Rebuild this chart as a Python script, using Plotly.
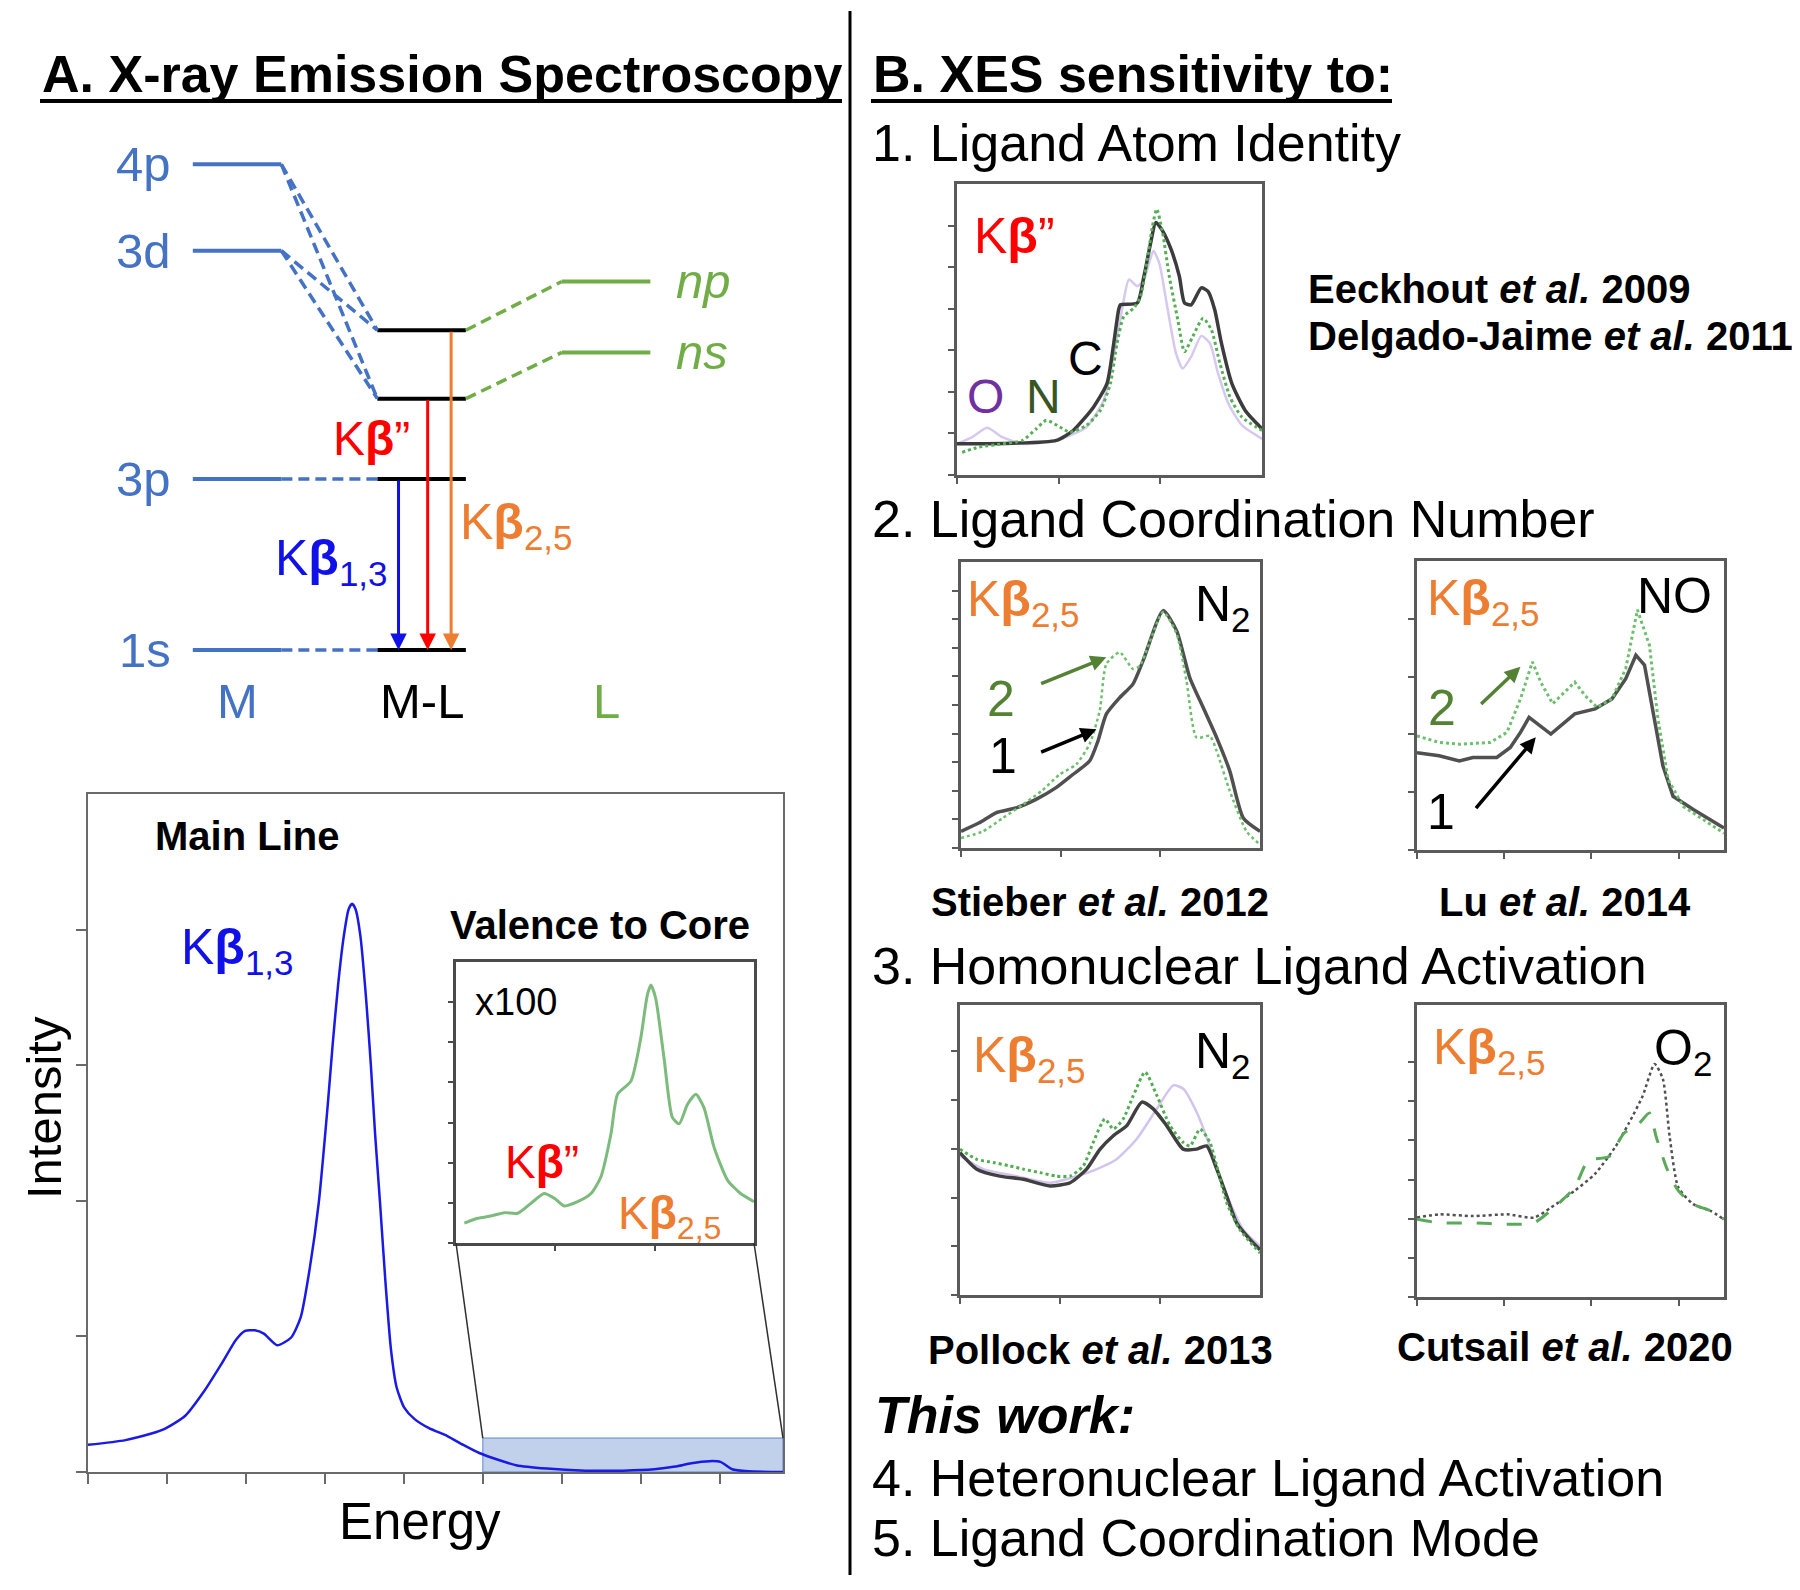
import plotly.graph_objects as go

# page offset: the browser puts an 8px body margin around the plot
OFF = 8
W, H = 1800 - OFF, 1590 - OFF
FONT = "Liberation Sans, Arial, Helvetica, sans-serif"

# ---------------------------------------------------------------- data
# Energy-level diagram (arbitrary energy units; columns: M=0, M-L=1, L=2)
M_LEVELS = ["4p", "3d", "3p", "1s"]
M_ENERGY = [28.4, 23.35, 10.0, 0.0]
ML_ENERGY = [18.7, 14.7, 10.0, 0.0]          # upper MO, lower MO, 3p, 1s
L_LEVELS = ["np", "ns"]
L_ENERGY = [21.55, 17.4]
M_TO_ML = [(0, 0), (0, 1), (1, 0), (1, 1), (2, 2), (3, 3)]
L_TO_ML = [(0, 0), (1, 1)]
COLUMN_LABELS = ["M", "M-L", "L"]
TRANSITION_NAMES = ["K<b>β</b><sub>1,3</sub>", "K<b>β</b>”", "K<b>β</b><sub>2,5</sub>"]
TRANSITION_FROM = [10.0, 14.7, 18.7]

# Main Kβ spectrum (normalised energy / intensity)
MAIN_X = [0, .054, .107, .14, .167, .193, .213, .226, .24, .253, .272, .292, .306, .319, .332,
          .345, .352, .36, .368, .375, .38, .385, .392, .40, .407, .413, .42, .428, .436, .444,
          .455, .47, .49, .517, .54, .563, .59, .616, .66, .716, .77, .815, .845, .868, .894,
          .91, .927, .95, 1.0]
MAIN_Y = [.040, .047, .062, .083, .119, .161, .195, .208, .209, .204, .187, .198, .228, .30, .397,
          .542, .63, .72, .79, .83, .838, .83, .79, .70, .60, .50, .40, .28, .18, .125,
          .095, .078, .065, .053, .04, .028, .018, .01, .005, .002, .002, .004, .008, .013, .016,
          .015, .004, .001, 0.0]
VTC_WINDOW = [0.568, 1.0]
VTC_HEIGHT = 0.05

# Valence-to-core inset (x100)
VTC_X = [.028, .073, .117, .162, .207, .251, .296, .33, .363, .408, .453, .486, .52, .542, .587,
         .62, .642, .654, .67, .698, .726, .749, .777, .805, .832, .866, .911, .955, 1.0]
VTC_Y = [.071, .088, .096, .108, .106, .141, .176, .159, .132, .147, .176, .235, .388, .529, .576,
         .729, .882, .918, .871, .659, .447, .424, .494, .529, .482, .341, .224, .176, .147]

# Panel B1: ligand atom identity (C, N, O)
P1_C_X = [0, .182, .326, .381, .448, .492, .514, .530, .536, .591, .613, .635, .652, .674, .702,
          .729, .746, .768, .801, .823, .845, .867, .901, .945, 1.0]
P1_C_Y = [.107, .109, .119, .153, .234, .315, .453, .568, .585, .591, .683, .798, .868, .839, .775,
          .683, .591, .585, .643, .631, .568, .453, .315, .222, .159]
P1_N_X = [.017, .072, .149, .215, .26, .293, .337, .37, .425, .47, .503, .525, .547, .58, .602,
          .624, .641, .655, .674, .696, .724, .746, .773, .807, .834, .862, .895, .934, 1.0]
P1_N_Y = [.078, .096, .107, .119, .159, .188, .165, .147, .171, .222, .315, .453, .545, .574, .614,
          .741, .856, .914, .833, .683, .533, .424, .476, .539, .499, .384, .268, .199, .153]
P1_O_X = [0, .05, .099, .149, .215, .326, .425, .481, .514, .541, .564, .591, .613, .63, .644,
          .663, .691, .718, .740, .768, .801, .829, .856, .890, .934, 1.0]
P1_O_Y = [.107, .130, .162, .130, .107, .119, .165, .257, .407, .568, .672, .649, .672, .729, .770,
          .729, .568, .418, .366, .407, .478, .453, .349, .245, .171, .124]

# Panel B2a: Stieber 2012 (N2, 1 vs 2)
P2A_1_X = [0, .061, .117, .184, .251, .318, .374, .43, .458, .486, .531, .575, .609, .676, .721,
           .765, .81, .855, .899, .944, 1.0]
P2A_1_Y = [.058, .088, .123, .14, .17, .211, .257, .304, .374, .468, .526, .573, .655, .83, .76,
           .596, .491, .386, .269, .105, .058]
P2A_2_X = [0, .073, .14, .207, .27, .33, .385, .43, .464, .486, .531, .575, .598, .676, .721,
           .754, .788, .832, .855, .899, .955, 1.0]
P2A_2_Y = [.035, .058, .105, .152, .20, .257, .292, .363, .48, .643, .684, .626, .637, .825, .749,
           .585, .386, .392, .339, .199, .058, .012]

# Panel B2b: Lu 2014 (NO, 1 vs 2)
P2B_1_X = [0, .072, .138, .182, .26, .304, .337, .365, .436, .481, .514, .58, .635, .68, .713,
           .741, .768, .801, .834, .9, 1.0]
P2B_1_Y = [.337, .326, .308, .32, .32, .355, .407, .459, .401, .442, .471, .488, .523, .593, .674,
           .64, .477, .291, .186, .14, .076]
P2B_2_X = [0, .072, .138, .238, .293, .337, .376, .403, .442, .481, .514, .547, .586, .635, .68,
           .718, .757, .785, .818, .867, .934, 1.0]
P2B_2_Y = [.395, .372, .366, .372, .407, .523, .651, .581, .506, .547, .581, .535, .494, .523, .628,
           .831, .709, .453, .244, .151, .105, .058]

# Panel B3a: Pollock 2013 (N2)
P3A_K_X = [0, .056, .133, .211, .3, .367, .422, .467, .511, .556, .606, .644, .689, .744, .789,
           .822, .856, .889, .922, .967, 1.0]
P3A_K_Y = [.491, .434, .41, .399, .376, .387, .434, .503, .549, .584, .665, .642, .584, .503, .503,
           .514, .434, .341, .249, .191, .156]
P3A_G_X = [0, .056, .111, .167, .211, .267, .322, .367, .411, .444, .483, .511, .544, .578, .617,
           .656, .7, .744, .767, .8, .833, .856, .889, .933, 1.0]
P3A_G_Y = [.503, .468, .457, .445, .434, .422, .41, .41, .445, .526, .607, .572, .607, .688, .769,
           .688, .584, .526, .514, .572, .526, .445, .318, .225, .145]
P3A_P_X = [0, .078, .189, .3, .389, .456, .522, .589, .656, .711, .744, .789, .828, .856, .9,
           .944, 1.0]
P3A_P_Y = [.48, .434, .41, .387, .41, .434, .468, .538, .642, .723, .711, .63, .526, .434, .318,
           .225, .168]

# Panel B3b: Cutsail 2020 (O2)
P3B_K_X = [0, .072, .182, .293, .381, .436, .514, .58, .646, .69, .735, .774, .801, .823, .851,
           .9, .956, 1.0]
P3B_K_Y = [.272, .283, .277, .283, .272, .306, .364, .422, .514, .595, .688, .798, .746, .549, .376,
           .318, .295, .266]
P3B_G_X = [0, .072, .182, .293, .381, .459, .514, .558, .624, .674, .724, .757, .779, .812, .851,
           .9, .956, 1.0]
P3B_G_Y = [.266, .254, .254, .249, .254, .318, .376, .468, .48, .561, .595, .63, .549, .445, .364,
           .318, .295, .266]

# ---------------------------------------------------------------- helpers
def P(x):
    return (x - OFF) / W


def Q(y):
    return 1 - (y - OFF) / H


BLUE_LVL = "#4472C4"
GREEN_LVL = "#70AD47"
ORANGE = "#ED7D31"
RED = "#FF0000"
DBLUE = "#1010E8"
FRAME = "#5a5a5a"

fig = go.Figure()
ann = []
shapes = []


def text(t, x, y, size, color="black", xanchor="center", yanchor="middle", xref="paper",
         yref="paper", angle=0):
    ann.append(dict(text=t, x=x, y=y, xref=xref, yref=yref, showarrow=False, xanchor=xanchor,
                    yanchor=yanchor, textangle=angle,
                    font=dict(family=FONT, size=size, color=color)))


def line(xs, ys, color, width, dash="solid", ax="", shape="linear", opacity=1.0):
    fig.add_trace(go.Scatter(x=xs, y=ys, mode="lines", xaxis="x" + ax, yaxis="y" + ax,
                             line=dict(color=color, width=width, dash=dash, shape=shape,
                                       smoothing=0.6),
                             opacity=opacity, showlegend=False, hoverinfo="skip"))


def arrow(x0, y0, x1, y1, color, width, ax="", head=2, size=1.0):
    ann.append(dict(x=x1, y=y1, ax=x0, ay=y0, xref="x" + ax, yref="y" + ax, axref="x" + ax,
                    ayref="y" + ax, text="", showarrow=True, arrowhead=head, arrowsize=size,
                    arrowwidth=width, arrowcolor=color, standoff=0, startstandoff=0))


# ---------------------------------------------------------------- energy diagram
HW = 0.24
for name, e in zip(M_LEVELS, M_ENERGY):
    line([-HW, HW], [e, e], BLUE_LVL, 4)
    text(name, -0.35, e, 49, BLUE_LVL, xanchor="right", xref="x", yref="y")
for e in ML_ENERGY:
    line([1 - HW, 1 + HW], [e, e], "black", 4)
for name, e in zip(L_LEVELS, L_ENERGY):
    line([2 - HW, 2 + HW], [e, e], GREEN_LVL, 4)
    text("<i>%s</i>" % name, 2.37, e, 49, GREEN_LVL, xanchor="left", xref="x", yref="y")
for mi, mli in M_TO_ML:
    line([HW, 1 - HW], [M_ENERGY[mi], ML_ENERGY[mli]], BLUE_LVL, 3.5, dash="11px,6px")
for li, mli in L_TO_ML:
    line([1 + HW, 2 - HW], [ML_ENERGY[mli], L_ENERGY[li]], GREEN_LVL, 3.5, dash="11px,6px")
for i, lab in enumerate(COLUMN_LABELS):
    text(lab, i, -2.95, 49, [BLUE_LVL, "black", GREEN_LVL][i], xref="x", yref="y")

arrow_x = [0.875, 1.033, 1.16]
arrow_c = [DBLUE, RED, ORANGE]
for xv, e0, c in zip(arrow_x, TRANSITION_FROM, arrow_c):
    arrow(xv, e0, xv, ML_ENERGY[-1], c, 3, head=2, size=1.1)
text(TRANSITION_NAMES[1], 0.95, 12.35, 48, RED, xanchor="right", xref="x", yref="y")
text(TRANSITION_NAMES[0], 0.83, 5.2, 50, DBLUE, xanchor="right", xref="x", yref="y")
text(TRANSITION_NAMES[2], 1.20, 7.3, 50, ORANGE, xanchor="left", xref="x", yref="y")

# ---------------------------------------------------------------- main spectrum
line(MAIN_X, MAIN_Y, "#1a1ae6", 2.5, ax="2", shape="spline")
shapes.append(dict(type="rect", xref="x2", yref="y2", x0=VTC_WINDOW[0], x1=VTC_WINDOW[1],
                   y0=0, y1=VTC_HEIGHT, fillcolor="rgba(68,114,196,0.33)",
                   line=dict(color="rgba(68,114,196,0.55)", width=1.5), layer="below"))

line(VTC_X, VTC_Y, "#7dbb7d", 3, ax="3", shape="spline")

# ---------------------------------------------------------------- panel B spectra
line(P1_O_X, P1_O_Y, "#d6c8ee", 2.5, ax="4", shape="spline")
line(P1_C_X, P1_C_Y, "#3c3c3c", 3.5, ax="4", shape="spline")
line(P1_N_X, P1_N_Y, "#55b055", 3, dash="dot", ax="4", shape="spline")

line(P2A_1_X, P2A_1_Y, "#505050", 3.5, ax="5", shape="spline")
line(P2A_2_X, P2A_2_Y, "#6cc06c", 2.5, dash="dot", ax="5", shape="spline")

line(P2B_1_X, P2B_1_Y, "#505050", 3.5, ax="6")
line(P2B_2_X, P2B_2_Y, "#6cc06c", 3, dash="dot", ax="6")

line(P3A_P_X, P3A_P_Y, "#d2c4ee", 2.5, ax="7", shape="spline")
line(P3A_K_X, P3A_K_Y, "#404040", 3.5, ax="7", shape="spline")
line(P3A_G_X, P3A_G_Y, "#4fae4f", 3, dash="dot", ax="7", shape="spline")

line(P3B_K_X, P3B_K_Y, "#505050", 2.5, dash="dot", ax="8", shape="spline")
line(P3B_G_X, P3B_G_Y, "#5aaa5a", 3, dash="longdash", ax="8", shape="spline")

# ---------------------------------------------------------------- axes / layout
def frame(dx, dy, xt, yt, color=FRAME, lw=3, xr=(0, 1), yr=(0, 1), tl=6):
    common = dict(showline=True, mirror=True, linecolor=color, linewidth=lw, ticks="outside",
                  ticklen=tl, tickwidth=1.5, tickcolor=color, showticklabels=False,
                  showgrid=False, zeroline=False, fixedrange=True)
    return (dict(domain=dx, range=list(xr), tickvals=xt, **common),
            dict(domain=dy, range=list(yr), tickvals=yt, **common))


DOMS = {
    "2": ([P(88), P(783)], [Q(1472), Q(794)]),
    "3": ([P(456), P(754)], [Q(1243), Q(962)]),
    "4": ([P(957), P(1262)], [Q(475), Q(184)]),
    "5": ([P(961), P(1260)], [Q(848), Q(562)]),
    "6": ([P(1417), P(1724)], [Q(850), Q(561)]),
    "7": ([P(960), P(1260)], [Q(1295), Q(1005)]),
    "8": ([P(1417), P(1724)], [Q(1297), Q(1005)]),
}
TICKS = {
    "2": ([k / 8.8 for k in range(9)], [0, .2, .4, .6, .8]),
    "3": ([1 / 3, 2 / 3], [k / 7 for k in range(7)]),
    "4": ([0, 1 / 3, 2 / 3], [k / 7 for k in range(7)]),
    "5": ([0, 1 / 3, 2 / 3], [k / 10 for k in range(10)]),
    "6": ([0, .284, .568, .852], [k / 5 for k in range(5)]),
    "7": ([0, 1 / 3, 2 / 3], [k * .168 for k in range(6)]),
    "8": ([0, .284, .568, .852], [k * .134 for k in range(7)]),
}

layout = dict(width=W, height=H, margin=dict(l=0, r=0, t=0, b=0), paper_bgcolor="white",
              plot_bgcolor="white", showlegend=False, font=dict(family=FONT),
              xaxis=dict(domain=[P(OFF), P(850)], range=[-1.285 + (OFF / 184.5), 3.322],
                         visible=False, fixedrange=True),
              yaxis=dict(domain=[Q(720), Q(100)], range=[-4.09, 32.16], visible=False,
                         fixedrange=True))
for k, (dx, dy) in DOMS.items():
    xt, yt = TICKS[k]
    if k == "2":
        xa, ya = frame(dx, dy, xt, yt, color="#6a6a6a", lw=1.5, tl=10)
    elif k == "3":
        xa, ya = frame(dx, dy, xt, yt, color="#4a4a4a", lw=2.5, tl=5)
    else:
        xa, ya = frame(dx, dy, xt, yt)
    xa["anchor"] = "y" + k
    ya["anchor"] = "x" + k
    layout["xaxis" + k] = xa
    layout["yaxis" + k] = ya

# connectors from inset to highlighted VTC window
mdx, mdy = DOMS["2"]
idx, idy = DOMS["3"]
wx0 = mdx[0] + VTC_WINDOW[0] * (mdx[1] - mdx[0])
wx1 = mdx[0] + VTC_WINDOW[1] * (mdx[1] - mdx[0])
wy = mdy[0] + VTC_HEIGHT * (mdy[1] - mdy[0])
for xa_, xb_ in [(idx[0], wx0), (idx[1], wx1)]:
    shapes.append(dict(type="line", xref="paper", yref="paper", x0=xa_, y0=idy[0], x1=xb_,
                       y1=wy, line=dict(color="#303030", width=1.5)))

# divider and title underlines
shapes.append(dict(type="line", xref="paper", yref="paper", x0=P(850), x1=P(850), y0=Q(1575),
                   y1=Q(11), line=dict(color="black", width=3)))
shapes.append(dict(type="line", xref="paper", yref="paper", x0=P(40), x1=P(842), y0=Q(101),
                   y1=Q(101), line=dict(color="black", width=4)))
shapes.append(dict(type="line", xref="paper", yref="paper", x0=P(871), x1=P(1392), y0=Q(101),
                   y1=Q(101), line=dict(color="black", width=4)))

# ---------------------------------------------------------------- texts, panel A
text("<b>A. X-ray Emission Spectroscopy</b>", P(40), Q(74), 52, xanchor="left")
text("<b>Main Line</b>", P(247), Q(836), 40)
text("<b>Valence to Core</b>", P(600), Q(925), 40)
text("K<b>β</b><sub>1,3</sub>", P(238), Q(950), 50, DBLUE)
text("x100", P(516), Q(1002), 38)
text("K<b>β</b>”", P(542), Q(1162), 46, RED)
text("K<b>β</b><sub>2,5</sub>", P(670), Q(1216), 46, ORANGE)
text("Intensity", P(44), Q(1108), 49, angle=-90)
text("Energy", P(420), Q(1521), 51)

# ---------------------------------------------------------------- texts, panel B
text("<b>B. XES sensitivity to:</b>", P(871), Q(74), 52, xanchor="left")
text("1. Ligand Atom Identity", P(870), Q(143), 52, xanchor="left")
text("2. Ligand Coordination Number", P(870), Q(519), 52, xanchor="left")
text("3. Homonuclear Ligand Activation", P(870), Q(966), 52, xanchor="left")
text("<b><i>This work:</i></b>", P(873), Q(1415), 52, xanchor="left")
text("4. Heteronuclear Ligand Activation", P(870), Q(1478), 52, xanchor="left")
text("5. Ligand Coordination Mode", P(870), Q(1538), 52, xanchor="left")

text("<b>Eeckhout <i>et al.</i> 2009</b>", P(1306), Q(289), 40, xanchor="left")
text("<b>Delgado-Jaime <i>et al.</i> 2011</b>", P(1306), Q(336), 40, xanchor="left")
text("<b>Stieber <i>et al.</i> 2012</b>", P(1100), Q(902), 40)
text("<b>Lu <i>et al.</i> 2014</b>", P(1565), Q(902), 40)
text("<b>Pollock <i>et al.</i> 2013</b>", P(1100), Q(1350), 40)
text("<b>Cutsail <i>et al.</i> 2020</b>", P(1565), Q(1347), 40)

# labels inside the small spectra
text("K<b>β</b>”", 0.19, 0.82, 50, RED, xref="x4", yref="y4")
text("O", 0.094, 0.27, 48, "#7030A0", xref="x4", yref="y4")
text("N", 0.282, 0.27, 48, "#375623", xref="x4", yref="y4")
text("C", 0.42, 0.40, 48, "black", xref="x4", yref="y4")

text("K<b>β</b><sub>2,5</sub>", 0.21, 0.86, 50, ORANGE, xref="x5", yref="y5")
text("N<sub>2</sub>", 0.875, 0.84, 50, "black", xref="x5", yref="y5")
text("2", 0.134, 0.52, 50, "#548235", xref="x5", yref="y5")
text("1", 0.14, 0.32, 50, "black", xref="x5", yref="y5")
arrow(0.263, 0.573, 0.486, 0.667, "#548235", 3.5, ax="5", head=2, size=0.9)
arrow(0.263, 0.333, 0.453, 0.415, "black", 3.5, ax="5", head=2, size=0.9)

text("K<b>β</b><sub>2,5</sub>", 0.215, 0.86, 50, ORANGE, xref="x6", yref="y6")
text("NO", 0.84, 0.88, 50, "black", xref="x6", yref="y6")
text("2", 0.083, 0.49, 50, "#548235", xref="x6", yref="y6")
text("1", 0.077, 0.13, 50, "black", xref="x6", yref="y6")
arrow(0.204, 0.50, 0.337, 0.634, "#548235", 3.5, ax="6", head=2, size=0.9)
arrow(0.188, 0.14, 0.387, 0.39, "black", 3.5, ax="6", head=2, size=0.9)

text("K<b>β</b><sub>2,5</sub>", 0.23, 0.815, 50, ORANGE, xref="x7", yref="y7")
text("N<sub>2</sub>", 0.875, 0.83, 50, "black", xref="x7", yref="y7")

text("K<b>β</b><sub>2,5</sub>", 0.235, 0.845, 50, ORANGE, xref="x8", yref="y8")
text("O<sub>2</sub>", 0.865, 0.84, 50, "black", xref="x8", yref="y8")

layout["annotations"] = ann
layout["shapes"] = shapes
fig.update_layout(**layout)

fig.write_html("out.html", config={"displayModeBar": False})
